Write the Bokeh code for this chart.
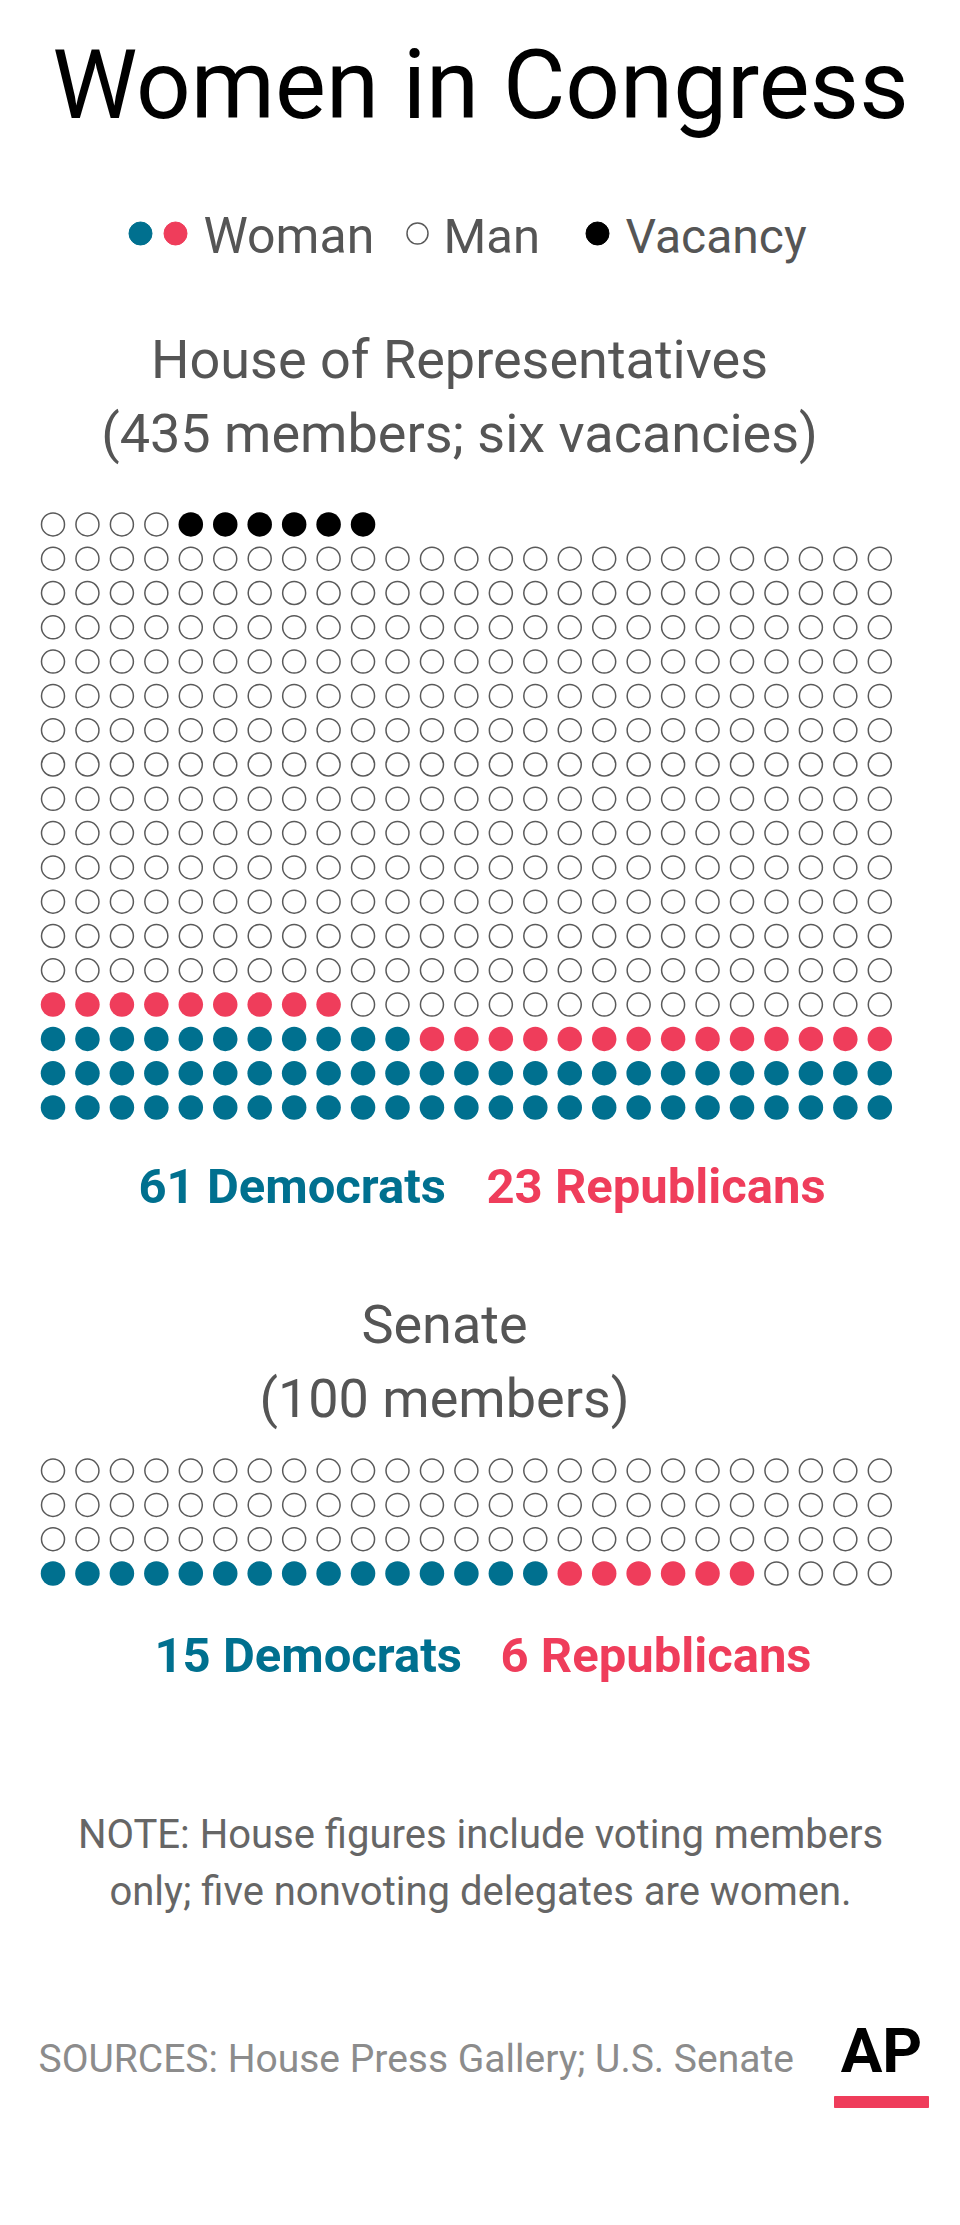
from bokeh.plotting import figure
from bokeh.models import Range1d, ColumnDataSource
from bokeh.core.properties import value
from bokeh.embed import file_html
from bokeh.resources import INLINE

# ---- data ----
title = "Women in Congress"
legend_labels = ["Woman", "Man", "Vacancy"]
house_heading = ["House of Representatives", "(435 members; six vacancies)"]
senate_heading = ["Senate", "(100 members)"]
house_counts = {"dem": 61, "rep": 23, "man": 345, "vacancy": 6}
senate_counts = {"dem": 15, "rep": 6, "man": 79, "vacancy": 0}
columns_per_row = 25
house_labels = ["61 Democrats", "23 Republicans"]
senate_labels = ["15 Democrats", "6 Republicans"]
note_lines = ["NOTE: House figures include voting members",
              "only; five nonvoting delegates are women."]
source_text = "SOURCES: House Press Gallery; U.S. Senate"

# ---- style ----
TEAL = "#00708f"
RED = "#ef3d5b"
GRAY = "#555555"
FONT = "Roboto"
W, H = 944, 2209
BASELINE_SHIFT = 0.35  # compensate renderer's baseline offset (in em)

p = figure(width=W, height=H, output_backend="svg", toolbar_location=None,
           x_range=Range1d(0, W), y_range=Range1d(H, 0),
           x_axis_location=None, y_axis_location=None, min_border=0,
           background_fill_color="white", border_fill_color="white")
p.grid.visible = False
p.outline_line_color = None


def waffle(counts, bottom_y, x0=52.5, dx=34.45, dy=34.3):
    order = ["dem", "rep", "man", "vacancy"]
    xs, ys, cats = [], [], []
    i = 0
    for c in order:
        for _ in range(counts[c]):
            xs.append(x0 + (i % columns_per_row) * dx)
            ys.append(bottom_y - (i // columns_per_row) * dy)
            cats.append(c)
            i += 1
    return xs, ys, cats


def draw_waffle(counts, bottom_y):
    xs, ys, cats = waffle(counts, bottom_y)
    colors = {"dem": TEAL, "rep": RED, "vacancy": "black"}
    filled = ColumnDataSource(dict(
        x=[x for x, c in zip(xs, cats) if c != "man"],
        y=[y for y, c in zip(ys, cats) if c != "man"],
        color=[colors[c] for c in cats if c != "man"]))
    empty = ColumnDataSource(dict(
        x=[x for x, c in zip(xs, cats) if c == "man"],
        y=[y for y, c in zip(ys, cats) if c == "man"]))
    p.scatter("x", "y", source=filled, size=24.5, fill_color="color",
              line_color=None, marker="circle")
    p.scatter("x", "y", source=empty, size=23, fill_color="white",
              line_color="#5a5a5a", line_width=1.5, marker="circle")


def txt(x, y, s, size, color=GRAY, align="center", bold=False):
    p.text(x=[x], y=[y - BASELINE_SHIFT * size], text=[s], text_font=value(FONT),
           text_font_size=f"{size}px", text_color=color, text_align=align,
           text_baseline="alphabetic",
           text_font_style="bold" if bold else "normal")


# title
txt(480, 118, title, 96, color="black")

# legend
p.scatter(x=[140, 175], y=[233, 233], size=23, color=[TEAL, RED], marker="circle")
txt(203, 253, legend_labels[0], 50, align="left")
p.scatter(x=[417], y=[233], size=21, fill_color="white", line_color="#5a5a5a",
          line_width=1.5, marker="circle")
txt(443, 253, legend_labels[1], 49, align="left")
p.scatter(x=[597], y=[233], size=23, color="black", marker="circle")
txt(625, 253, legend_labels[2], 48, align="left")

# House
txt(459, 378, house_heading[0], 54)
txt(459, 452, house_heading[1], 54)
draw_waffle(house_counts, 1107)
txt(138, 1203, house_labels[0], 49, color=TEAL, align="left", bold=True)
txt(486, 1203, house_labels[1], 49, color=RED, align="left", bold=True)

# Senate
txt(444, 1343, senate_heading[0], 54)
txt(444, 1417, senate_heading[1], 54)
draw_waffle(senate_counts, 1573)
txt(154, 1672, senate_labels[0], 49, color=TEAL, align="left", bold=True)
txt(500, 1672, senate_labels[1], 49, color=RED, align="left", bold=True)

# note
txt(480, 1848, note_lines[0], 40, color="#666666")
txt(480, 1905, note_lines[1], 40, color="#666666")

# source + logo
txt(38, 2072, source_text, 39, color="#8c8c8c", align="left")
txt(881, 2072, "AP", 62, color="black", bold=True)
p.quad(left=[834], right=[928], top=[2096], bottom=[2107], color=RED)

open("out.html", "w").write(file_html(p, INLINE))
